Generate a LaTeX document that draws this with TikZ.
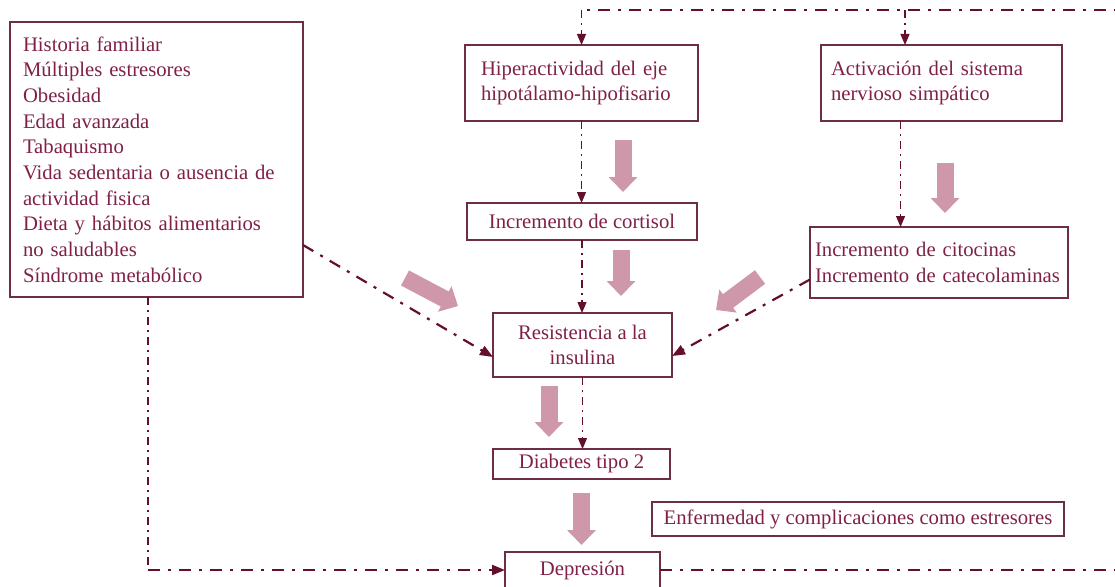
\documentclass[tikz,border=0pt]{standalone}
\usepackage{fontspec}
\setmainfont{Liberation Serif}
\usetikzlibrary{arrows.meta,calc}

\definecolor{boxline}{RGB}{110,45,70}
\definecolor{boxtext}{RGB}{128,32,72}
\definecolor{linkline}{RGB}{100,15,45}
\definecolor{bigpink}{RGB}{207,152,170}

\begin{document}
\begin{tikzpicture}[x=1pt, y=-1pt,
  box/.style={draw=boxline, line width=1.3pt, text=boxtext, inner sep=0pt, outer sep=0pt,
    font=\fontsize{20.7}{25.7}\selectfont},
  link/.style={draw=linkline, line width=1.1pt, dash pattern=on 8pt off 5pt on 2pt off 5pt,
    -{Triangle[length=11pt,width=9pt]}},
  flow/.style={draw=linkline, line width=2.2pt, dash pattern=on 12pt off 8pt on 3pt off 8pt,
    -{Triangle[length=13pt,width=10pt]}},
  fat/.style={draw=bigpink, line width=17pt, -{Triangle[length=15pt,width=28pt]}}]

\useasboundingbox (0,0) rectangle (1115,586);
\clip (0,0) rectangle (1115,586);

\node [box, inner xsep=13pt, text width=267pt, align=left, minimum height=275pt] (risk) at (156.5,159.5)
  {Historia familiar\\Múltiples estresores\\Obesidad\\Edad avanzada\\Tabaquismo\\Vida sedentaria o ausencia de\\actividad fisica\\Dieta y hábitos alimentarios\\no saludables\\Síndrome metabólico};

\node [box, inner xsep=16pt, text width=201pt, align=left, minimum height=76pt] (hpa) at (581.5,83)
  {Hiperactividad del eje\\hipotálamo-hipofisario};
\node [box, inner xsep=10pt, text width=221pt, align=left, minimum height=76pt] (sns) at (941.5,83)
  {Activación del sistema\\nervioso simpático};

\node [box, minimum width=230pt, minimum height=37pt] (cort) at (582,221.5) {Incremento de cortisol};
\node [box, inner xsep=5pt, text width=248pt, align=left, minimum height=71pt] (cito) at (939,262.5)
  {Incremento de citocinas\\Incremento de catecolaminas};

\node [box, minimum width=179pt, minimum height=64pt, align=center] (resist) at (582.5,345)
  {Resistencia a la\\insulina};
\node [box, minimum width=177pt, minimum height=30pt] (diab) at (581.5,464) {Diabetes tipo 2};
\node [box, minimum width=412pt, minimum height=34pt] (enf) at (858,519)
  {Enfermedad y complicaciones como estresores};
\node [box, minimum width=155pt, minimum height=36pt] (dep) at (582.5,570) {Depresión};

\draw [fat] ($(hpa.south)+(41.5,19)$) -- ($(cort.north)+(41,-11)$);
\draw [fat] ($(cort.south)+(39,10)$) -- ($(resist.north)+(38.5,-17)$);
\draw [fat] ($(sns.south)+(3.5,42)$) -- ($(cito.north)+(6,-14)$);
\draw [fat] ($(cito.west)+(-50,14.5)$) -- ($(resist.east)+(44,-35)$);
\draw [fat] ($(risk.south east)+(102,-19)$) -- ($(resist.west)+(-35,-39)$);
\draw [fat] ($(resist.south)+(-33.5,9)$) -- ($(diab.north)+(-32.5,-12)$);
\draw [fat] ($(diab.south)+(0,14)$) -- ($(dep.north)+(-1,-7)$);

\draw [link] (hpa.south) -- (hpa.south |- cort.north);
\draw [link] (cort.south) -- (cort.south |- resist.north);
\draw [link] (resist.south) -- (resist.south |- diab.north);
\coordinate (snsdrop) at ($(sns.south west)!0.33!(sns.south east)$);
\draw [link] (snsdrop) -- (snsdrop |- cito.north);

\draw [flow] ($(risk.south east)+(0,-52)$) -- ($(resist.west)+(0,12)$);
\draw [flow] ($(cito.west)+(0,17)$) -- ($(resist.east)+(0,11)$);

\coordinate (riskdrop) at ($(risk.south west)+(138,0)$);
\draw [link, -] (riskdrop) -- (riskdrop |- dep.west);
\draw [flow] (riskdrop |- dep.west) -- (dep.west);

\coordinate (fartop) at (1130,10);
\coordinate (hpatop) at (hpa.north |- fartop);
\coordinate (snstop) at (905,10);
\draw [flow, -] (dep.east) -- (dep.east -| fartop) -- (fartop) -- (hpatop);
\draw [link] (hpatop) -- (hpa.north);
\draw [link] (snstop) -- (snstop |- sns.north);
\end{tikzpicture}
\end{document}
